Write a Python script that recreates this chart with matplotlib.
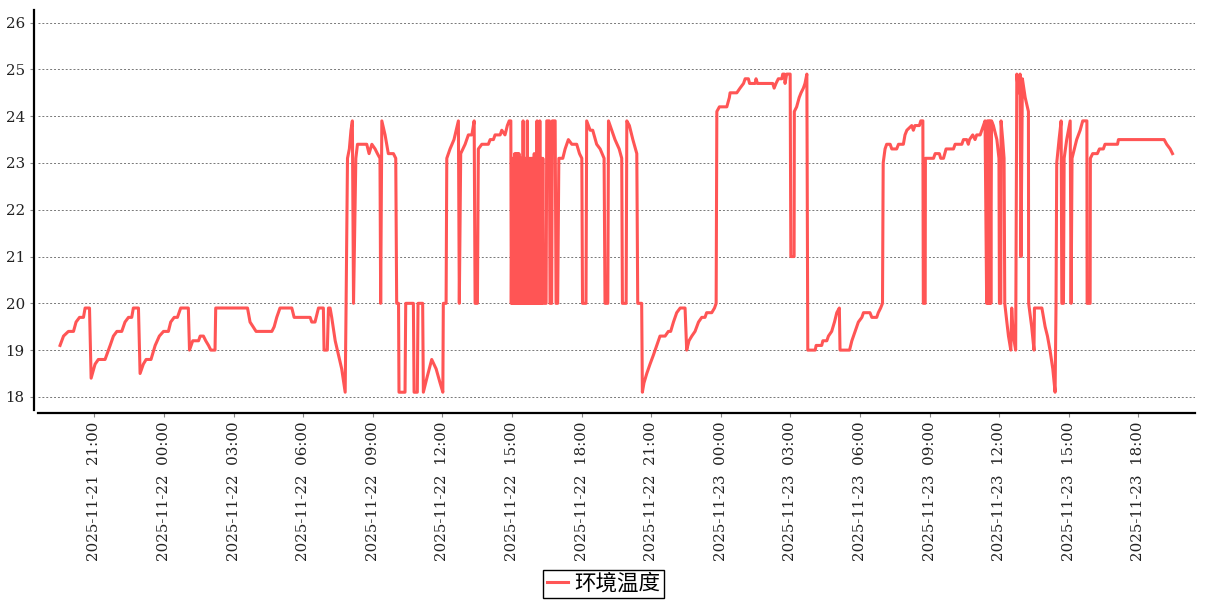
import numpy as np
import pandas as pd
from matplotlib import pyplot as plt
import matplotlib.dates as mdates

# hours after 2025-11-21 00:00
hours = [
    19.52, 19.67, 19.88, 20.10, 20.21, 20.36, 20.53, 20.60, 20.79, 20.86,
    21.03, 21.17, 21.46, 21.68, 21.82, 21.97, 22.18, 22.32, 22.47, 22.61,
    22.68, 22.90, 22.97, 23.11, 23.23, 23.44, 23.62, 23.80, 23.98, 24.19,
    24.29, 24.44, 24.58, 24.72, 25.05, 25.10, 25.24, 25.49, 25.56, 25.70,
    25.80, 25.92, 26.02, 26.20, 26.23, 27.60, 27.71, 27.97, 28.65, 28.75,
    28.86, 29.00,
    29.51, 29.61, 30.30, 30.37, 30.51, 30.66, 30.87, 30.90, 31.04, 31.09,
    31.16, 31.23, 31.38, 31.52, 31.66, 31.81, 31.85, 31.91, 31.99, 32.06,
    32.12, 32.17, 32.27, 32.34, 32.74, 32.84, 32.96, 33.10, 33.20, 33.31,
    33.34, 33.39, 33.53, 33.67, 33.89, 33.99, 34.03, 34.11, 34.13, 34.39,
    34.42, 34.75, 34.78, 34.92, 34.95, 35.15, 35.18, 35.33, 35.54, 35.73,
    35.90, 36.02, 36.04, 36.16, 36.19, 36.33, 36.50, 36.69, 36.73, 36.79,
    36.98, 37.12, 37.27, 37.37, 37.41, 37.51, 37.55, 37.70, 37.98, 38.06,
    38.20, 38.27, 38.49, 38.56, 38.70, 38.80, 38.88, 38.95,
    # noisy block around 15:00
    38.97, 39.00, 39.03, 39.06, 39.09, 39.12, 39.15, 39.18, 39.21, 39.24,
    39.27, 39.30, 39.33, 39.36, 39.39, 39.42, 39.45, 39.48, 39.51, 39.54,
    39.57, 39.60, 39.63, 39.66, 39.69, 39.72, 39.75, 39.78, 39.81, 39.84,
    39.87, 39.90, 39.93, 39.96, 39.99, 40.02, 40.05, 40.08, 40.11, 40.14,
    40.17, 40.20, 40.23, 40.26, 40.29, 40.33,
    40.36, 40.47, 40.50, 40.61, 40.64, 40.71, 40.74, 40.86, 40.90, 40.97,
    41.02, 41.19, 41.29, 41.43, 41.58, 41.79, 41.91, 42.01, 42.04, 42.19,
    42.22, 42.37, 42.48, 42.65, 42.80, 42.97, 43.01, 43.13, 43.16, 43.30,
    43.44, 43.62, 43.73, 43.76, 43.92, 43.95, 44.06, 44.21, 44.38, 44.42,
    44.59, 44.62, 44.69, 44.81, 44.95, 45.10, 45.24, 45.38, 45.60, 45.74,
    45.84, 45.96, 46.10, 46.25, 46.46, 46.53, 46.63, 46.75, 46.89, 47.04,
    47.18, 47.32, 47.39, 47.61, 47.73, 47.80, 47.83, 47.94, 48.26, 48.37,
    48.40, 48.69, 48.83,
    48.98, 49.05, 49.19, 49.24, 49.48, 49.52, 49.58, 50.24, 50.30, 50.38,
    50.48, 50.63, 50.67, 50.74, 50.77, 50.84, 50.99, 51.02, 51.16, 51.17,
    51.27, 51.38, 51.46, 51.56, 51.63, 51.71, 51.75, 52.07, 52.11, 52.35,
    52.40, 52.57, 52.64, 52.78, 52.90, 53.00, 53.11, 53.14, 53.55, 53.65,
    53.79, 53.93, 54.08, 54.15, 54.43, 54.51, 54.72, 54.79, 54.89, 54.97,
    55.00, 55.08, 55.15, 55.30, 55.37, 55.58, 55.66, 55.87, 55.94, 56.02,
    56.23, 56.30, 56.37, 56.56, 56.62, 56.71, 56.73, 56.81, 56.82, 57.17,
    57.24, 57.42, 57.48, 57.60, 57.71, 58.03, 58.10, 58.39, 58.46, 58.60,
    58.67,
    58.72, 58.86, 58.96, 59.03, 59.18, 59.25, 59.32, 59.39, 59.46, 59.49,
    59.52, 59.55, 59.58, 59.61, 59.64, 59.67, 59.75, 59.90, 59.99, 60.01,
    60.07, 60.08, 60.15, 60.21, 60.24, 60.33, 60.40, 60.50, 60.54, 60.61,
    60.71, 60.76, 60.83, 60.90, 60.94, 61.00, 61.12, 61.26, 61.27, 61.40,
    61.50, 61.52, 61.84, 61.98, 62.08, 62.19, 62.31, 62.41, 62.45, 62.48,
    62.58, 62.67, 62.70, 62.77, 62.80, 62.91, 63.06, 63.10, 63.14, 63.34,
    63.49, 63.60, 63.78, 63.79, 63.92, 63.93, 64.03, 64.23, 64.32, 64.49,
    64.56, 65.10, 65.14, 67.11, 67.22, 67.37, 67.47,
]

temps = [
    19.1, 19.3, 19.4, 19.4, 19.6, 19.7, 19.7, 19.9, 19.9, 18.4,
    18.7, 18.8, 18.8, 19.1, 19.3, 19.4, 19.4, 19.6, 19.7, 19.7,
    19.9, 19.9, 18.5, 18.7, 18.8, 18.8, 19.1, 19.3, 19.4, 19.4,
    19.6, 19.7, 19.7, 19.9, 19.9, 19.0, 19.2, 19.2, 19.3, 19.3,
    19.2, 19.1, 19.0, 19.0, 19.9, 19.9, 19.6, 19.4, 19.4, 19.5,
    19.7, 19.9,
    19.9, 19.7, 19.7, 19.6, 19.6, 19.9, 19.9, 19.0, 19.0, 19.9,
    19.9, 19.7, 19.2, 18.9, 18.6, 18.1, 20.0, 23.1, 23.3, 23.7,
    23.9, 20.0, 23.1, 23.4, 23.4, 23.2, 23.4, 23.3, 23.2, 23.1,
    20.0, 23.9, 23.6, 23.2, 23.2, 23.1, 20.0, 20.0, 18.1, 18.1,
    20.0, 20.0, 18.1, 18.1, 20.0, 20.0, 18.1, 18.4, 18.8, 18.6,
    18.3, 18.1, 20.0, 20.0, 23.1, 23.3, 23.5, 23.9, 20.0, 23.2,
    23.4, 23.6, 23.6, 23.9, 20.0, 20.0, 23.3, 23.4, 23.4, 23.5,
    23.5, 23.6, 23.6, 23.7, 23.6, 23.8, 23.9, 23.9,
    20.0, 23.1, 20.0, 23.1, 20.0, 23.2, 20.0, 23.2, 20.0, 23.2,
    20.0, 23.2, 20.0, 23.1, 20.0, 23.1, 20.0, 23.9, 20.0, 23.1,
    20.0, 23.1, 20.0, 23.9, 20.0, 23.1, 20.0, 23.1, 20.0, 23.1,
    20.0, 23.1, 20.0, 23.2, 20.0, 23.1, 20.0, 23.9, 20.0, 23.1,
    20.0, 23.9, 20.0, 23.1, 20.0, 23.1,
    20.0, 20.0, 23.9, 23.9, 20.0, 20.0, 23.9, 23.9, 20.0, 20.0,
    23.1, 23.1, 23.3, 23.5, 23.4, 23.4, 23.2, 23.1, 20.0, 20.0,
    23.9, 23.7, 23.7, 23.4, 23.3, 23.1, 20.0, 20.0, 23.9, 23.7,
    23.5, 23.3, 23.1, 20.0, 20.0, 23.9, 23.8, 23.5, 23.2, 20.0,
    20.0, 18.1, 18.3, 18.5, 18.7, 18.9, 19.1, 19.3, 19.3, 19.4,
    19.4, 19.6, 19.8, 19.9, 19.9, 19.0, 19.2, 19.3, 19.4, 19.6,
    19.7, 19.7, 19.8, 19.8, 19.9, 20.0, 24.1, 24.2, 24.2, 24.4,
    24.5, 24.5, 24.6,
    24.7, 24.8, 24.8, 24.7, 24.7, 24.8, 24.7, 24.7, 24.6, 24.7,
    24.8, 24.8, 24.9, 24.9, 24.7, 24.9, 24.9, 21.0, 21.0, 24.1,
    24.2, 24.4, 24.5, 24.6, 24.7, 24.9, 19.0, 19.0, 19.1, 19.1,
    19.2, 19.2, 19.3, 19.4, 19.6, 19.8, 19.9, 19.0, 19.0, 19.2,
    19.4, 19.6, 19.7, 19.8, 19.8, 19.7, 19.7, 19.8, 19.9, 20.0,
    23.0, 23.3, 23.4, 23.4, 23.3, 23.3, 23.4, 23.4, 23.6, 23.7,
    23.8, 23.7, 23.8, 23.8, 23.9, 23.9, 20.0, 20.0, 23.1, 23.1,
    23.2, 23.2, 23.1, 23.1, 23.3, 23.3, 23.4, 23.4, 23.5, 23.5,
    23.4,
    23.5, 23.6, 23.5, 23.6, 23.6, 23.7, 23.8, 23.9, 20.0, 23.9,
    20.0, 23.9, 20.0, 23.9, 20.0, 23.9, 23.8, 23.5, 23.1, 20.0,
    20.0, 23.9, 23.5, 23.1, 20.0, 19.6, 19.3, 19.0, 19.9, 19.3,
    19.0, 24.9, 24.5, 24.9, 21.0, 24.8, 24.4, 24.1, 20.0, 19.5,
    19.0, 19.9, 19.9, 19.5, 19.3, 19.0, 18.6, 18.1, 20.0, 23.0,
    23.5, 23.9, 20.0, 20.0, 23.1, 23.5, 23.9, 20.0, 23.1, 23.5,
    23.7, 23.9, 23.9, 20.0, 20.0, 23.1, 23.2, 23.2, 23.3, 23.3,
    23.4, 23.4, 23.5, 23.5, 23.4, 23.3, 23.2,
]

series_name = '环境温度'

plt.rcParams['font.family'] = ['DejaVu Serif']
plt.rcParams['path.simplify'] = False

start = pd.Timestamp('2025-11-21 00:00')
times = start + pd.to_timedelta(hours, unit='h')

fig = plt.figure(figsize=(12.07, 6.0), dpi=100)
ax = fig.add_axes([38 / 1207, 1 - 410 / 600, (1195 - 38) / 1207, 400 / 600])

ax.plot(times, temps, color='#ff5555', lw=2.2, label=series_name)

ax.set_ylim(17.72, 26.27)
ax.set_xlim(start + pd.Timedelta(hours=18.57), start + pd.Timedelta(hours=68.44))
ax.set_yticks(np.arange(18, 27, 1))

ax.xaxis.set_major_locator(mdates.HourLocator(byhour=range(0, 24, 3)))
ax.xaxis.set_major_formatter(mdates.DateFormatter('%Y-%m-%d  %H:%M'))

ax.tick_params(axis='both', labelsize=10.8, length=3, color='#888888', labelcolor='#222222')
ax.tick_params(axis='x', labelrotation=90)

ax.grid(axis='y', color='#777777', linestyle=(0, (2, 2)), linewidth=0.7)
ax.set_axisbelow(True)

ax.spines['top'].set_visible(False)
ax.spines['right'].set_visible(False)
ax.spines['left'].set_linewidth(1.6)
ax.spines['bottom'].set_linewidth(1.6)
ax.spines['left'].set_position(('outward', 3))
ax.spines['bottom'].set_position(('outward', 2))

leg = fig.legend(loc='lower center', bbox_to_anchor=(0.5, 0.003),
                 prop={'family': ['Noto Sans CJK SC', 'DejaVu Sans'], 'size': 15.5},
                 fancybox=False, edgecolor='black', framealpha=1,
                 borderpad=0.15, handlelength=1.0, handletextpad=0.3,
                 borderaxespad=0.0)
leg.get_frame().set_linewidth(1.0)

fig.savefig('out.png', dpi=100)
